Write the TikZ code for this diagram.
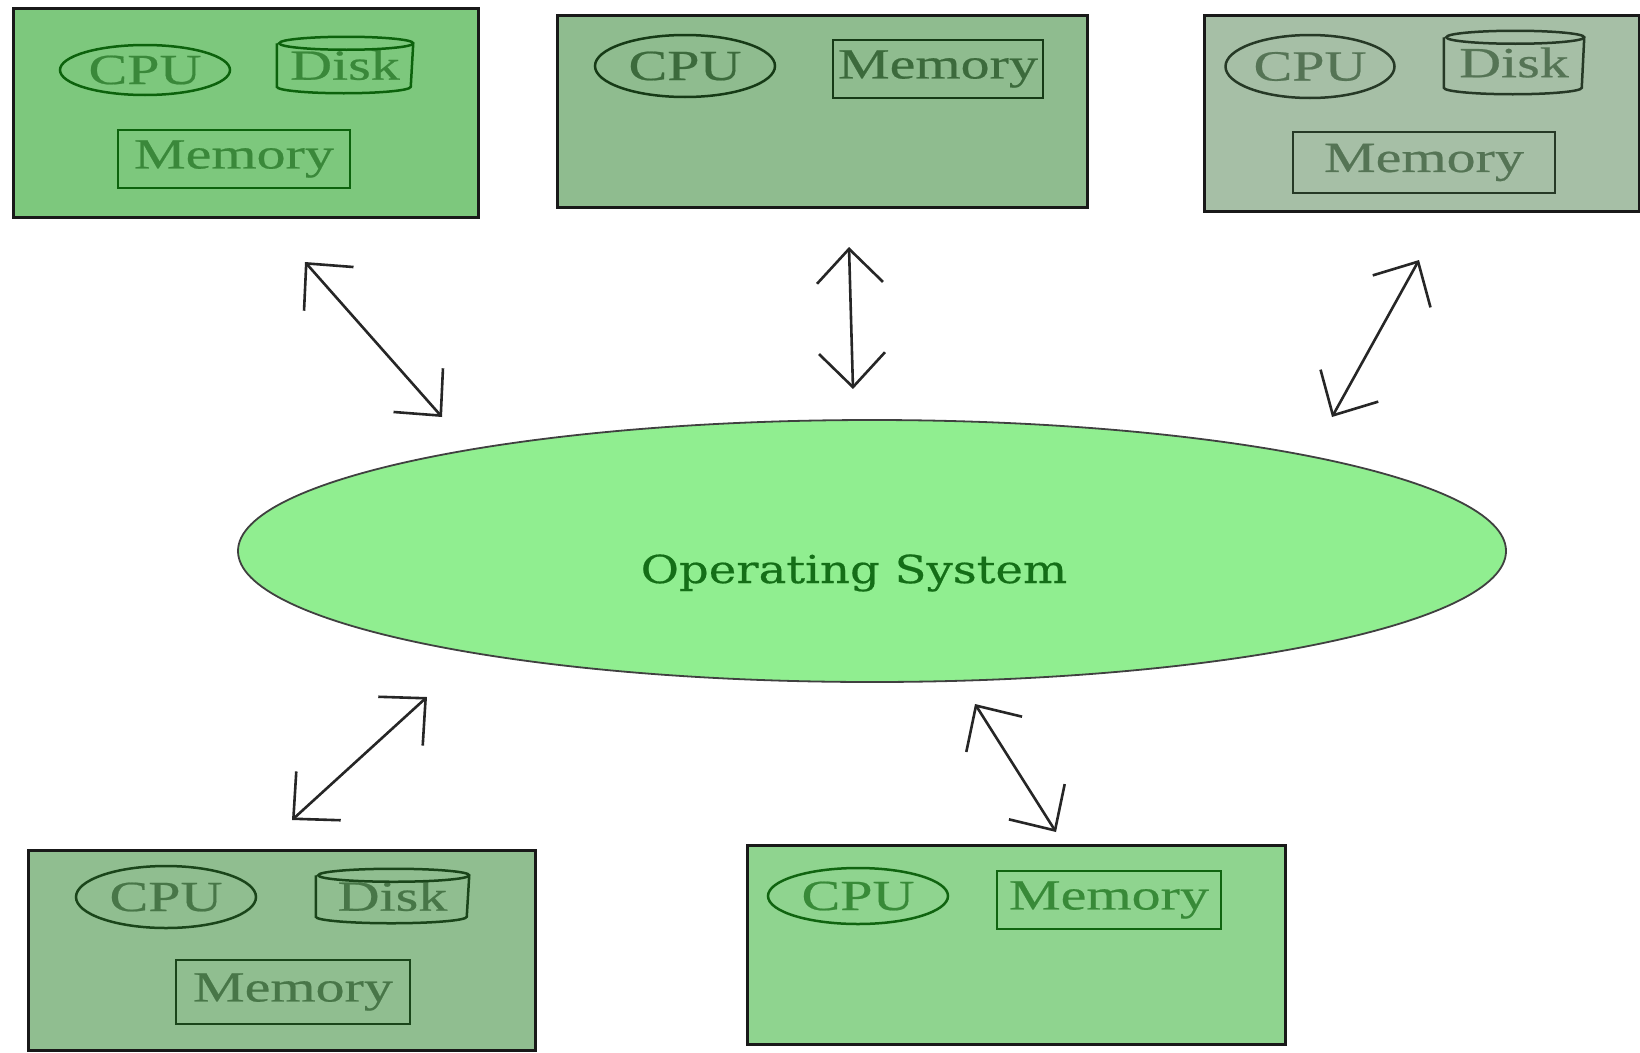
\documentclass[tikz,border=0pt]{standalone}
\usepackage{fontspec}
\newfontfamily\boxfont[FakeStretch=1.35,FakeBold=0.5]{Liberation Serif}
\newfontfamily\osfont[FakeStretch=1.21,FakeBold=0.5]{DejaVu Serif}
\usetikzlibrary{arrows.meta,shapes.geometric,calc}
\definecolor{fillA}{HTML}{7DC87D}
\definecolor{fillB}{HTML}{8FBC8F}
\definecolor{fillC}{HTML}{A6BFA6}
\definecolor{fillD}{HTML}{90BE90}
\definecolor{fillE}{HTML}{8FD48F}
\definecolor{osfill}{HTML}{90EE90}
\definecolor{ostext}{HTML}{146E17}
\definecolor{txtA}{HTML}{3A883A}\definecolor{strA}{HTML}{0C620C}
\definecolor{txtB}{HTML}{3C6A3C}\definecolor{strB}{HTML}{163A16}
\definecolor{txtC}{HTML}{557455}\definecolor{strC}{HTML}{263926}
\definecolor{txtD}{HTML}{487648}\definecolor{strD}{HTML}{1A451A}
\definecolor{txtE}{HTML}{388A38}\definecolor{strE}{HTML}{106410}
\tikzset{
  outerbox/.style={rectangle, draw=black!90, line width=3pt, inner sep=0pt},
  part/.style={line width=2.5pt, inner sep=0pt, font=\boxfont\fontsize{43}{48}\selectfont},
  cpu/.style={part, ellipse, draw},
  mem/.style={part, rectangle, draw},
  diskn/.style={part, rectangle},
  link/.style={line width=2.6pt, draw=black!85,
    {Straight Barb[length=34pt,width=66pt]}-{Straight Barb[length=34pt,width=66pt]}},
}
\newcommand\diskcyl[3]{%
  \draw[line width=2.5pt, draw=#3]
    ([yshift=-6.5pt]#1.north west) -- ([yshift=6.5pt]#1.south west)
    arc[start angle=180,end angle=360,x radius=#2pt,y radius=6.5pt]
    -- ([yshift=-6.5pt]#1.north east)
    arc[start angle=0,end angle=360,x radius=#2pt,y radius=6.5pt];}
\begin{document}
\begin{tikzpicture}[x=1pt,y=-1pt]
\fill[white] (0,0) rectangle (1640,1052);
\useasboundingbox (0,0) rectangle (1640,1052);

% outer boxes
\node[outerbox, fill=fillA, minimum width=465pt, minimum height=209pt] (b1) at (245.5,112.5) {};
\node[outerbox, fill=fillB, minimum width=530pt, minimum height=192pt] (b2) at (822,111) {};
\node[outerbox, fill=fillC, minimum width=435pt, minimum height=196pt] (b3) at (1421.5,113) {};
\node[outerbox, fill=fillD, minimum width=507pt, minimum height=200pt] (b4) at (281.5,950) {};
\node[outerbox, fill=fillE, minimum width=538pt, minimum height=199pt] (b5) at (1016,944.5) {};

% box 1
\node[cpu, draw=strA, text=txtA, minimum width=170pt, minimum height=50pt] (cpu1) at (145,70) {CPU};
\node[diskn, text=txtA, minimum width=134pt, minimum height=54pt] (disk1) at (345,65) {Disk};
\diskcyl{disk1}{67}{strA}
\node[mem, draw=strA, text=txtA, minimum width=232pt, minimum height=58pt] (mem1) at (234,159) {Memory};

% box 2
\node[cpu, draw=strB, text=txtB, minimum width=180pt, minimum height=62pt] (cpu2) at (685,66) {CPU};
\node[mem, draw=strB, text=txtB, minimum width=210pt, minimum height=58pt] (mem2) at (938,69) {Memory};

% box 3
\node[cpu, draw=strC, text=txtC, minimum width=169pt, minimum height=63pt] (cpu3) at (1310,66.5) {CPU};
\node[diskn, text=txtC, minimum width=138pt, minimum height=61pt] (disk3) at (1514,62.5) {Disk};
\diskcyl{disk3}{69}{strC}
\node[mem, draw=strC, text=txtC, minimum width=262pt, minimum height=61pt] (mem3) at (1424,162.5) {Memory};

% box 4
\node[cpu, draw=strD, text=txtD, minimum width=180pt, minimum height=62pt] (cpu4) at (166,897) {CPU};
\node[diskn, text=txtD, minimum width=151pt, minimum height=52pt] (disk4) at (392.5,896) {Disk};
\diskcyl{disk4}{75.5}{strD}
\node[mem, draw=strD, text=txtD, minimum width=234pt, minimum height=64pt] (mem4) at (293,992) {Memory};

% box 5
\node[cpu, draw=strE, text=txtE, minimum width=180pt, minimum height=56pt] (cpu5) at (858,896) {CPU};
\node[mem, draw=strE, text=txtE, minimum width=224pt, minimum height=58pt] (mem5) at (1109,900) {Memory};

% operating system
\node[ellipse, draw=black!75, fill=osfill, line width=1.8pt, inner sep=0pt,
      minimum width=1268pt, minimum height=262pt] (os) at (872,551) {};
\node[text=ostext, font=\osfont\fontsize{38.5}{44}\selectfont, inner sep=0pt] (ostext) at (854,573) {Operating System};

% connectors
\coordinate (a1s) at (305,262); \coordinate (a1e) at (442,417);
\coordinate (a2s) at (849,247); \coordinate (a2e) at (853,389);
\coordinate (a3s) at (1419,260); \coordinate (a3e) at (1332,417);
\coordinate (a4s) at (427,697); \coordinate (a4e) at (292,820);
\coordinate (a5s) at (975,704); \coordinate (a5e) at (1056,832);
\draw[link] (a1s) -- (a1e);
\draw[link] (a2s) -- (a2e);
\draw[link] (a3s) -- (a3e);
\draw[link] (a4s) -- (a4e);
\draw[link] (a5s) -- (a5e);
\end{tikzpicture}
\end{document}
